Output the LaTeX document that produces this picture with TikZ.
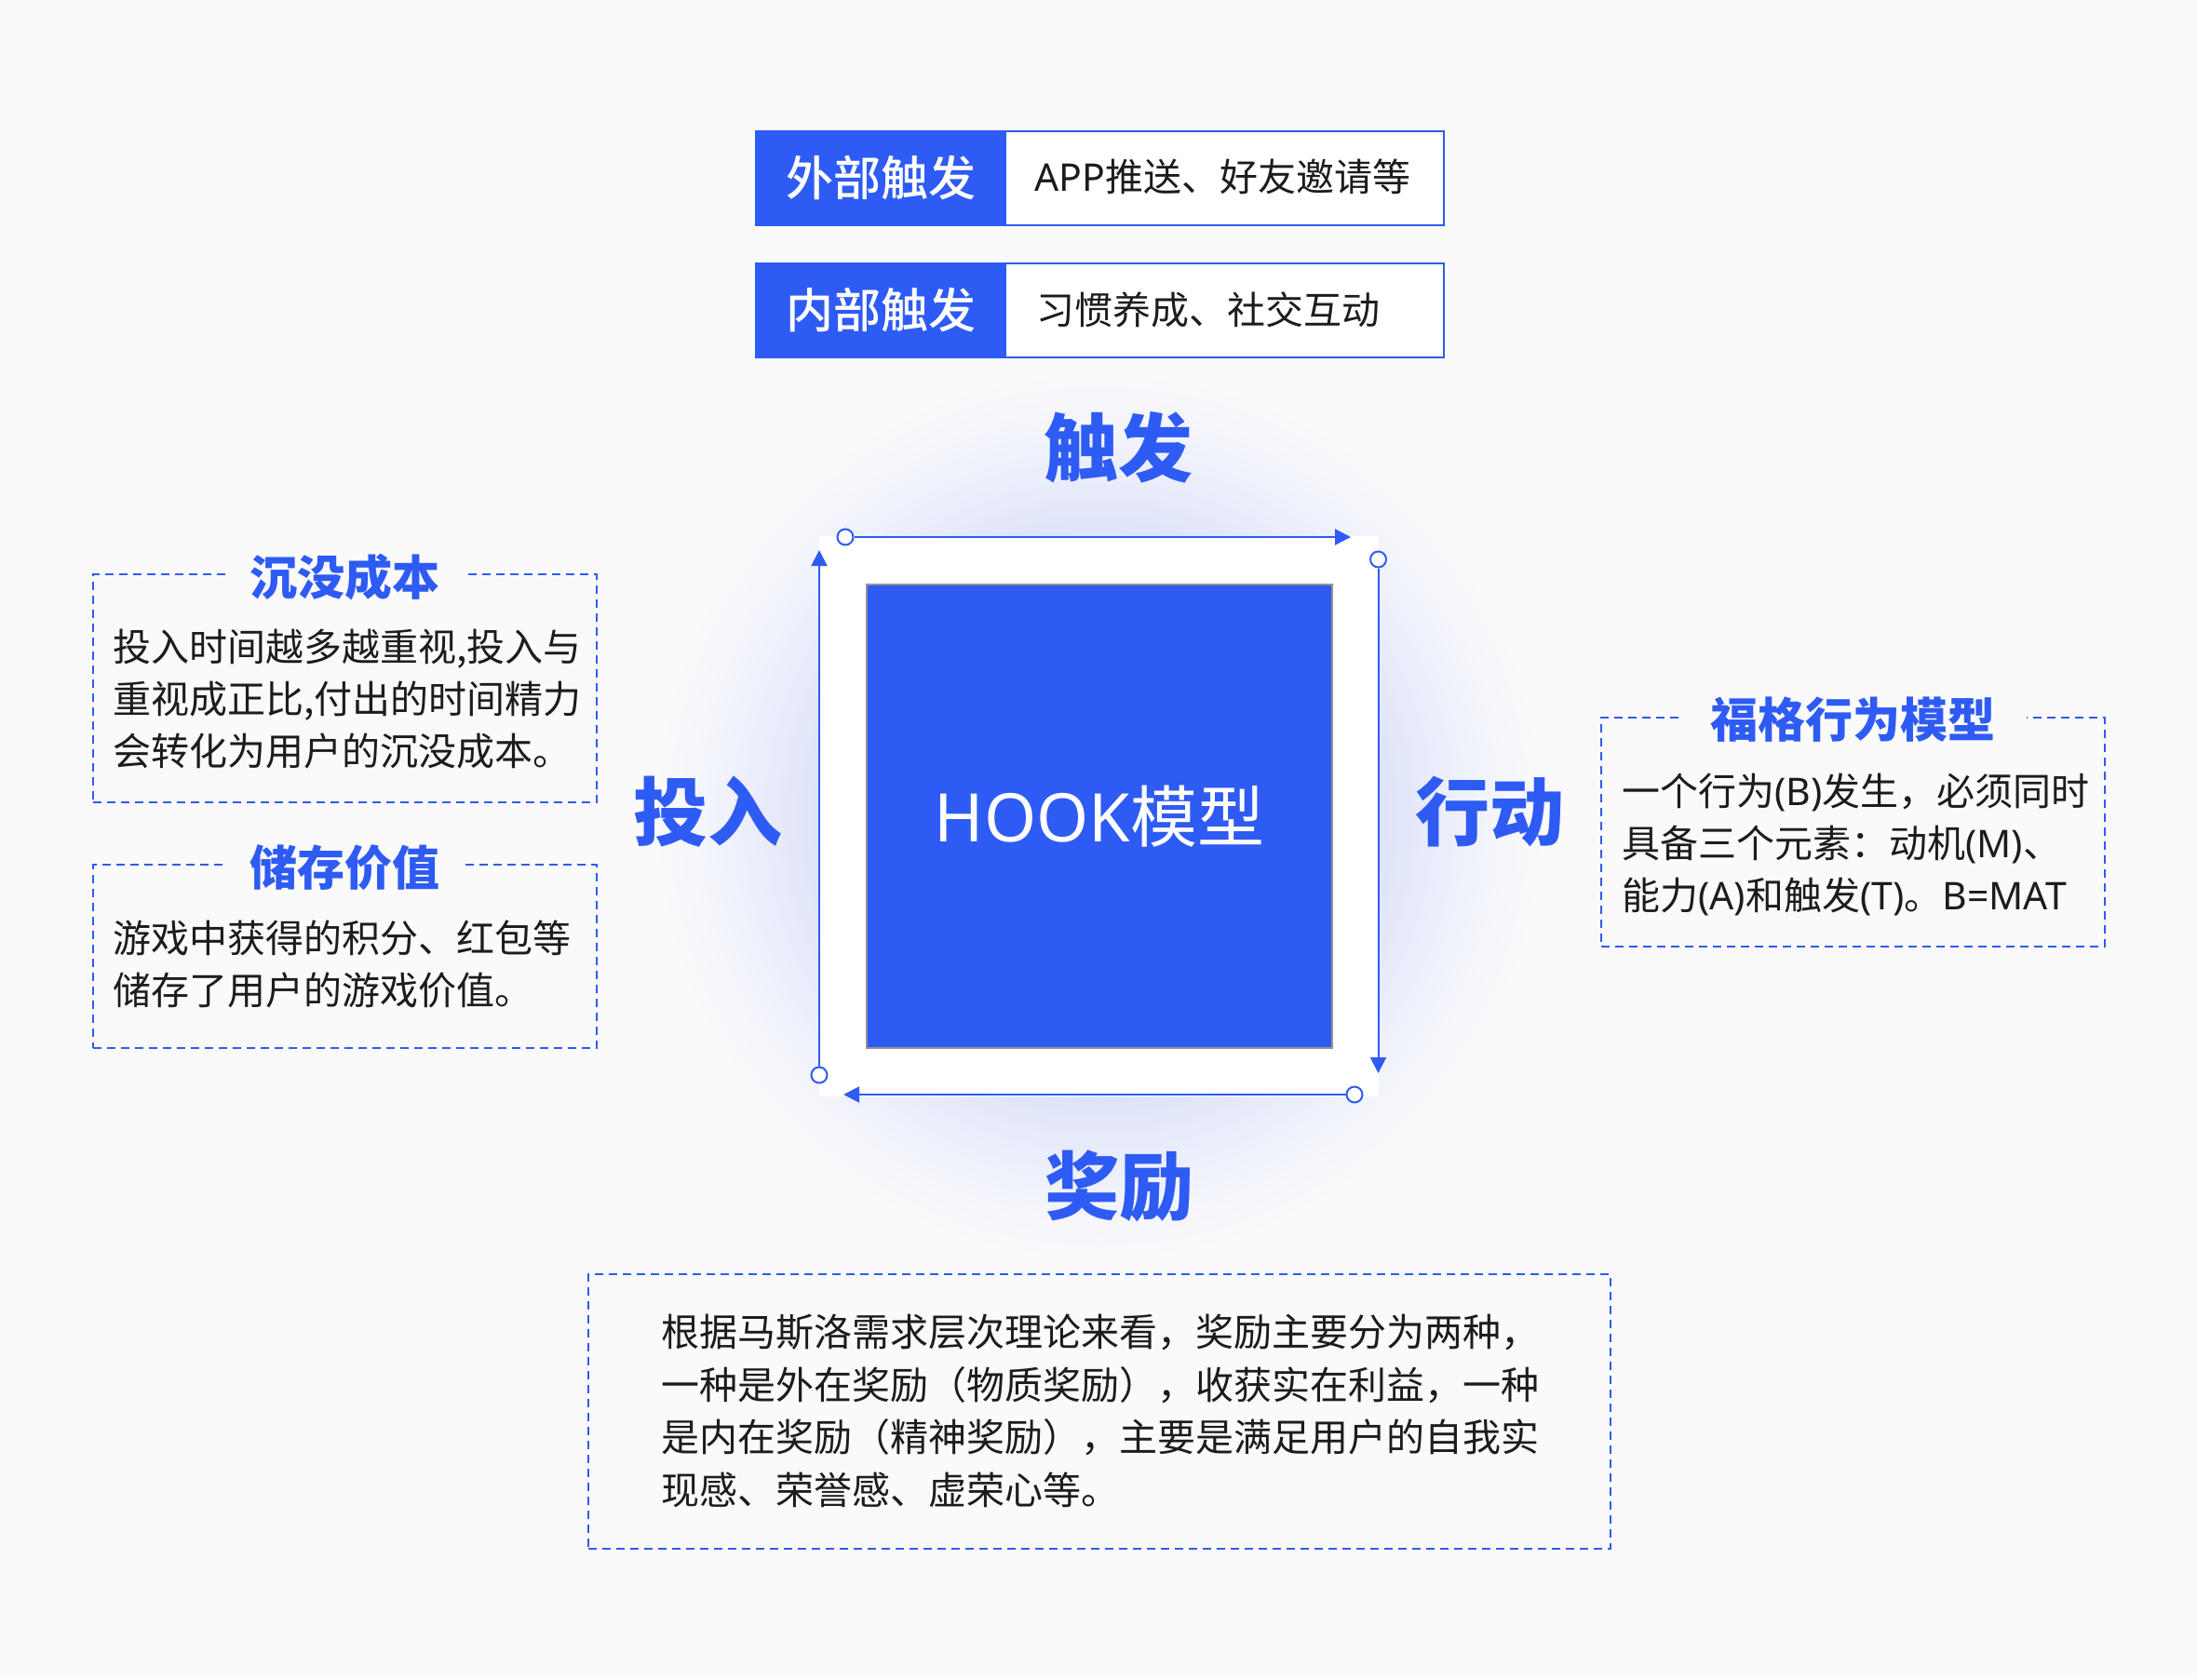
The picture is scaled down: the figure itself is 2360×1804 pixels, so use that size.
\documentclass[tikz,border=0pt]{standalone}
\usepackage{fontspec}
\setmainfont{Noto Sans CJK SC}
\newfontfamily\lat{Noto Sans}
\IfFontExistsTF{Noto Sans CJK SC Medium}{\newfontfamily\medfont{Noto Sans CJK SC Medium}}{\newcommand\medfont{\bfseries}}
\usetikzlibrary{arrows.meta}
\definecolor{hb}{HTML}{2E5BF3}
\definecolor{bgc}{HTML}{FAFAFB}
\definecolor{glowc}{RGB}{214,221,250}
\definecolor{txt}{HTML}{1C1C1C}
\tikzset{
  titlelbl/.style={font=\fontsize{51}{51}\selectfont\bfseries, text=hb, fill=bgc, inner xsep=26pt, inner ysep=2pt},
  biglbl/.style={font=\fontsize{80}{80}\selectfont\bfseries, text=hb, inner sep=0pt},
  bodyln/.style={font=\fontsize{41}{48}\selectfont, text=txt, anchor=base west, inner sep=0pt},
  dbox/.style={draw=hb, line width=2pt, dash pattern=on 9pt off 6pt, anchor=north west, inner sep=0pt},
  arrline/.style={draw=hb, line width=2pt, -{Triangle[length=17pt,width=17pt]}},
  ringdot/.style={circle, draw=hb, fill=white, line width=2pt, minimum size=17pt, inner sep=0pt},
  trigblue/.style={fill=hb, text=white, font=\fontsize{51}{51}\selectfont\medfont, anchor=north west, inner sep=0pt, minimum width=270pt, minimum height=101pt},
  trigwhite/.style={fill=white, draw=hb, line width=2pt, anchor=north west, inner sep=0pt, minimum width=739pt, minimum height=101pt}
}
\begin{document}
\begin{tikzpicture}[x=1pt,y=-1pt]
\fill[bgc] (0,0) rectangle (2360,1804);
\useasboundingbox (0,0) rectangle (2360,1804);
% glow
\foreach \k in {0,...,55}{
  \pgfmathsetmacro{\rr}{485-\k*4}
  \pgfmathsetmacro{\pp}{100*(\k/55)^1.3}
  \fill[glowc!\pp!bgc] (1181,877) circle (\rr pt);
}
% trigger boxes
\node[trigwhite] (ext) at (811,140) {};
\node[trigblue] (extl) at (811,140) {外部触发};
\node[bodyln] (extt) at (1111,205.5) {{\lat APP}推送、好友邀请等};
\node[trigwhite] (int) at (811,282) {};
\node[trigblue] (intl) at (811,282) {内部触发};
\node[bodyln] (intt) at (1113,348.5) {习惯养成、社交互动};
% center
\node[fill=white, minimum width=601pt, minimum height=602pt, inner sep=0pt] (sq) at (1180.5,877) {};
\node[fill=hb, draw=gray!85, line width=2pt, minimum width=500pt, minimum height=498pt, inner sep=0pt, text=white, font=\fontsize{72}{72}\selectfont] (core) at (1181,877) {{\lat HOOK}模型};
% arrows
\node[ringdot] (d1) at (908,577) {};
\coordinate (t1) at (1451,577);
\draw[arrline] (d1) -- (t1);
\node[ringdot] (d2) at (1480.5,601) {};
\coordinate (t2) at (1480.5,1153);
\draw[arrline] (d2) -- (t2);
\node[ringdot] (d3) at (1455,1176) {};
\coordinate (t3) at (906,1176);
\draw[arrline] (d3) -- (t3);
\node[ringdot] (d4) at (880,1155) {};
\coordinate (t4) at (880,591);
\draw[arrline] (d4) -- (t4);
% big labels
\node[biglbl] (chufa) at (1201,481) {触发};
\node[biglbl] (jiangli) at (1202,1274) {奖励};
\node[biglbl] (touru) at (760,872) {投入};
\node[biglbl] (xingdong) at (1600,872) {行动};
% left box 1
\node[dbox, minimum width=541pt, minimum height=245pt] (b1) at (99,616) {};
\node[titlelbl] (b1t) at (370,620) {沉没成本};
\node[bodyln] (b1a) at (121,710.5) {投入时间越多越重视,投入与};
\node[bodyln] (b1b) at (121,766.5) {重视成正比,付出的时间精力};
\node[bodyln] (b1c) at (121,822.5) {会转化为用户的沉没成本。};
% left box 2
\node[dbox, minimum width=541pt, minimum height=197pt] (b2) at (99,928) {};
\node[titlelbl] (b2t) at (370,932.5) {储存价值};
\node[bodyln] (b2a) at (121,1023.5) {游戏中获得的积分、红包等};
\node[bodyln] (b2b) at (121,1079.5) {储存了用户的游戏价值。};
% right box
\node[dbox, minimum width=541pt, minimum height=246pt] (b3) at (1719,770) {};
\node[titlelbl, inner xsep=34pt] (b3t) at (1990,773) {福格行为模型};
\node[bodyln] (b3a) at (1742,865.5) {一个行为{\lat (B)}发生，必须同时};
\node[bodyln] (b3b) at (1742,921.5) {具备三个元素：动机{\lat (M)}、};
\node[bodyln] (b3c) at (1742,977.5) {能力{\lat (A)}和触发{\lat (T)}。{\lat B=MAT}};
% bottom box
\node[dbox, minimum width=1098pt, minimum height=295pt] (b4) at (631,1368) {};
\node[bodyln] (b4a) at (710,1446.5) {根据马斯洛需求层次理论来看，奖励主要分为两种，};
\node[bodyln] (b4b) at (710,1503) {一种是外在奖励（物质奖励），收获实在利益，一种};
\node[bodyln] (b4c) at (710,1559.5) {是内在奖励（精神奖励），主要是满足用户的自我实};
\node[bodyln] (b4d) at (710,1616) {现感、荣誉感、虚荣心等。};
\end{tikzpicture}
\end{document}
